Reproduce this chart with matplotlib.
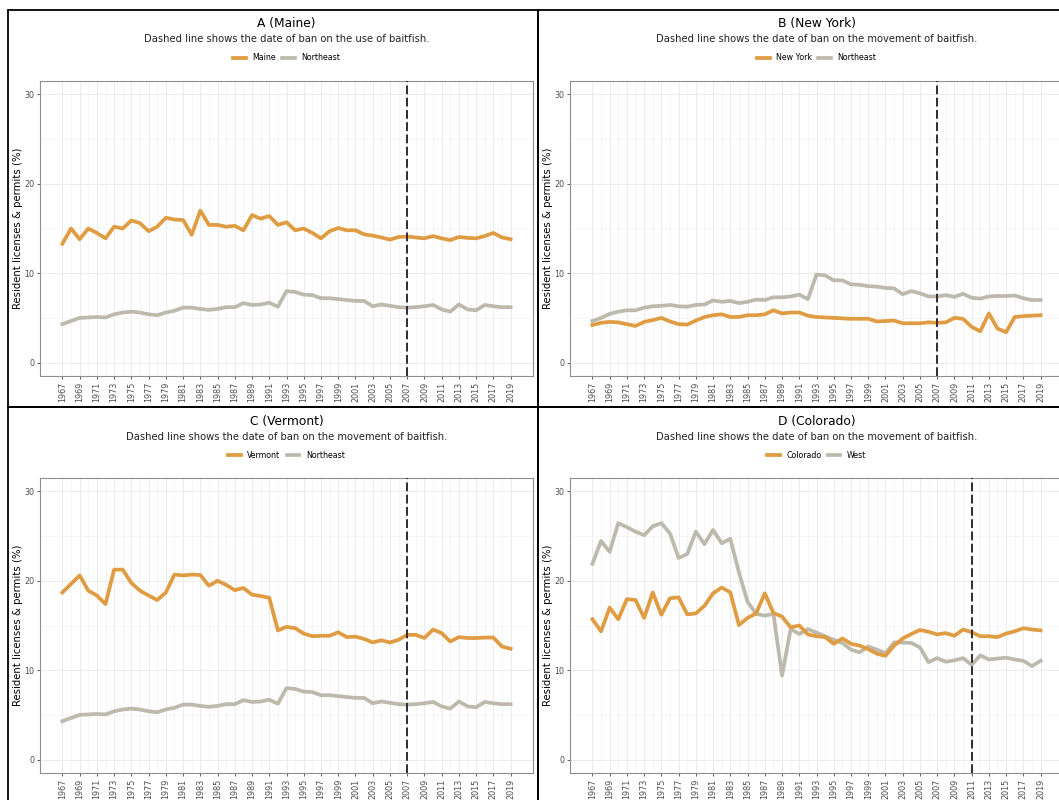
import matplotlib
matplotlib.use('Agg')
import matplotlib.pyplot as plt
from matplotlib.patches import Rectangle
from matplotlib.lines import Line2D

# Years covered by every panel
years = list(range(1967, 2020))

# Percent of resident licenses & permits
maine = [13.3, 15.0, 13.8, 15.0, 14.5, 13.9, 15.2, 15.0, 15.9, 15.6,
         14.7, 15.2, 16.2, 16.0, 15.95, 14.3, 17.0, 15.4, 15.4, 15.2,
         15.3, 14.8, 16.5, 16.1, 16.4, 15.4, 15.7, 14.8, 15.0, 14.5,
         13.9, 14.7, 15.05, 14.8, 14.8, 14.35, 14.2, 14.0, 13.75, 14.05,
         14.1, 14.0, 13.9, 14.15, 13.9, 13.7, 14.05, 13.95, 13.9, 14.15,
         14.5, 14.0, 13.8]
northeast = [4.3, 4.65, 5.0, 5.05, 5.1, 5.05, 5.4, 5.6, 5.7, 5.6,
             5.4, 5.3, 5.6, 5.8, 6.15, 6.15, 6.0, 5.9, 6.0, 6.2,
             6.2, 6.65, 6.45, 6.5, 6.7, 6.25, 8.0, 7.9, 7.6, 7.55,
             7.2, 7.2, 7.1, 7.0, 6.9, 6.9, 6.3, 6.5, 6.35, 6.2,
             6.15, 6.2, 6.3, 6.45, 5.95, 5.7, 6.5, 5.95, 5.85, 6.45,
             6.3, 6.2, 6.2]
new_york = [4.2, 4.45, 4.55, 4.5, 4.3, 4.1, 4.55, 4.75, 5.0, 4.6,
            4.3, 4.25, 4.7, 5.1, 5.3, 5.4, 5.1, 5.1, 5.3, 5.3,
            5.4, 5.85, 5.5, 5.6, 5.6, 5.25, 5.1, 5.05, 5.0, 4.95,
            4.9, 4.9, 4.9, 4.6, 4.65, 4.7, 4.4, 4.4, 4.4, 4.5,
            4.45, 4.5, 5.0, 4.9, 4.0, 3.5, 5.5, 3.8, 3.4, 5.1,
            5.2, 5.25, 5.3]
northeast_ny = [4.65, 5.0, 5.45, 5.7, 5.85, 5.85, 6.15, 6.3, 6.35, 6.45,
                6.3, 6.25, 6.45, 6.5, 6.95, 6.8, 6.9, 6.65, 6.8, 7.05,
                7.0, 7.3, 7.3, 7.4, 7.6, 7.1, 9.85, 9.75, 9.2, 9.2,
                8.75, 8.7, 8.55, 8.5, 8.35, 8.3, 7.65, 8.0, 7.75, 7.4,
                7.4, 7.55, 7.35, 7.7, 7.25, 7.15, 7.4, 7.45, 7.45, 7.5,
                7.2, 7.0, 7.0]
vermont = [18.7, 19.65, 20.6, 18.9, 18.35, 17.4, 21.25, 21.25, 19.75, 18.9,
           18.35, 17.85, 18.7, 20.7, 20.6, 20.7, 20.65, 19.45, 20.0, 19.55,
           18.95, 19.2, 18.45, 18.3, 18.1, 14.45, 14.85, 14.7, 14.1, 13.8,
           13.85, 13.85, 14.25, 13.7, 13.75, 13.5, 13.1, 13.35, 13.1, 13.4,
           13.95, 13.95, 13.6, 14.55, 14.15, 13.2, 13.7, 13.6, 13.6, 13.65,
           13.65, 12.65, 12.4]
colorado = [15.7, 14.35, 17.0, 15.7, 17.95, 17.85, 15.85, 18.7, 16.2, 18.05,
            18.15, 16.25, 16.35, 17.2, 18.6, 19.25, 18.7, 15.05, 15.85, 16.35,
            18.6, 16.4, 16.0, 14.8, 15.0, 14.0, 13.8, 13.7, 12.95, 13.55,
            12.95, 12.75, 12.35, 11.85, 11.6, 12.75, 13.55, 14.05, 14.5, 14.3,
            14.0, 14.15, 13.85, 14.55, 14.25, 13.8, 13.8, 13.7, 14.1, 14.35,
            14.7, 14.55, 14.45]
west = [21.9, 24.45, 23.25, 26.45, 26.0, 25.5, 25.1, 26.1, 26.45, 25.3,
        22.55, 23.0, 25.5, 24.1, 25.7, 24.2, 24.7, 20.95, 17.65, 16.3,
        16.1, 16.3, 9.4, 14.6, 14.05, 14.6, 14.2, 13.8, 13.4, 13.05,
        12.3, 12.0, 12.65, 12.3, 11.9, 13.1, 13.1, 13.05, 12.55, 10.9,
        11.35, 10.95, 11.1, 11.35, 10.6, 11.65, 11.2, 11.3, 11.4, 11.2,
        11.05, 10.45, 11.05]

panel_titles = ['A (Maine)', 'B (New York)', 'C (Vermont)', 'D (Colorado)']
subtitles = ['Dashed line shows the date of ban on the use of baitfish.',
             'Dashed line shows the date of ban on the movement of baitfish.',
             'Dashed line shows the date of ban on the movement of baitfish.',
             'Dashed line shows the date of ban on the movement of baitfish.']
state_names = ['Maine', 'New York', 'Vermont', 'Colorado']
region_names = ['Northeast', 'Northeast', 'Northeast', 'West']
state_series = [maine, new_york, vermont, colorado]
region_series = [northeast, northeast_ny, northeast, west]
ban_years = [2007, 2007, 2007, 2011]

STATE_COLOR = '#E09C42'
REGION_COLOR = '#BDB9AD'
W, H = 1059, 800

fig = plt.figure(figsize=(W / 100, H / 100), dpi=100)

# Panel origins in pixels (left, top)
origins = [(8, 10), (538, 10), (8, 407), (538, 407)]


def fx(px):
    return px / W


def fy(py):
    return 1 - py / H


for i, (ox, oy) in enumerate(origins):
    # black frame around each panel
    fig.patches.append(Rectangle((fx(ox), fy(oy + 397)), 530 / W, 397 / H,
                                 transform=fig.transFigure, fill=False,
                                 edgecolor='black', linewidth=1.3, zorder=10))

    ax = fig.add_axes([fx(ox + 32), fy(oy + 366), 493 / W, 295 / H])
    ax.plot(years, region_series[i], color=REGION_COLOR, lw=2.7,
            solid_joinstyle='round', zorder=3)
    ax.plot(years, state_series[i], color=STATE_COLOR, lw=2.7,
            solid_joinstyle='round', zorder=4)
    ax.axvline(ban_years[i], color='#2E2B3A', lw=1.4, dashes=(4.5, 1.8), zorder=5)

    ax.set_xlim(1964.4, 2021.6)
    ax.set_ylim(-1.5, 31.5)
    ax.set_xticks(range(1967, 2020, 2))
    ax.set_xticks(range(1968, 2020, 2), minor=True)
    ax.set_yticks([0, 10, 20, 30])
    ax.set_yticks([5, 15, 25], minor=True)
    ax.grid(which='major', color='#EBEBEB', lw=0.7)
    ax.grid(which='minor', color='#F4F4F4', lw=0.6)
    ax.set_axisbelow(True)
    ax.tick_params(axis='x', which='major', labelrotation=90, labelsize=5.8,
                   labelcolor='#4D4D4D', length=2.5, color='#444444', width=0.6, pad=1.5)
    ax.tick_params(axis='y', which='major', labelsize=5.8, labelcolor='#4D4D4D',
                   length=2.5, color='#444444', width=0.6, pad=1.5)
    ax.tick_params(which='minor', length=0)
    for s in ax.spines.values():
        s.set_color('#8E8E8E')
        s.set_linewidth(0.8)

    cx = fx(ox + 278.5)
    fig.text(cx, fy(oy + 14), panel_titles[i], ha='center', va='center', fontsize=8.8)
    fig.text(cx, fy(oy + 29.5), subtitles[i], ha='center', va='center',
             fontsize=7.2, color='#222222')
    fig.text(fx(ox + 10), fy(oy + 218), 'Resident licenses & permits (%)',
             rotation=90, ha='center', va='center', fontsize=7.3)

    handles = [Line2D([], [], color=STATE_COLOR, lw=2.7),
               Line2D([], [], color=REGION_COLOR, lw=2.7)]
    fig.legend(handles, [state_names[i], region_names[i]], loc='center',
               bbox_to_anchor=(cx, fy(oy + 48)), ncol=2, frameon=False,
               fontsize=5.7, handlelength=1.6, handletextpad=0.8,
               columnspacing=0.8, borderpad=0, borderaxespad=0)

fig.savefig('out.png', dpi=100)
